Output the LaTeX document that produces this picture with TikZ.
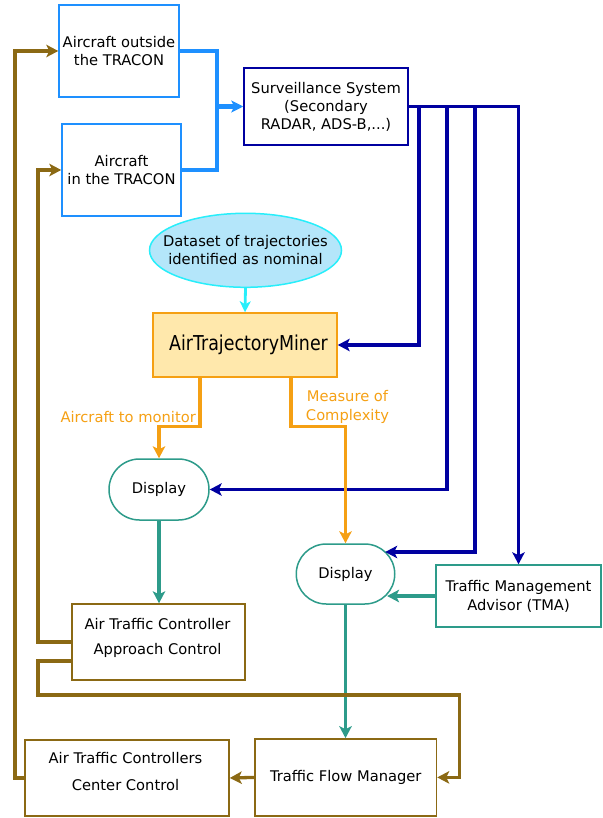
\documentclass[tikz,border=0pt]{standalone}
\usepackage{fontspec}
\setmainfont{DejaVu Sans}
\newfontfamily\condf[FakeStretch=0.85]{DejaVu Sans}
\usetikzlibrary{arrows.meta,shapes.geometric,shapes.misc}
\definecolor{cblue}{RGB}{30,144,255}
\definecolor{cdblue}{RGB}{0,0,160}
\definecolor{ccyan}{RGB}{40,238,250}
\definecolor{ccyanfill}{RGB}{180,230,250}
\definecolor{catmfill}{RGB}{255,232,172}
\definecolor{corange}{RGB}{245,160,20}
\definecolor{cteal}{RGB}{45,155,138}
\definecolor{cbrown}{RGB}{139,105,20}
\tikzset{
  txt/.style={font=\fontsize{14.7}{18}\selectfont, align=center, text=black, inner sep=0pt},
  box/.style={txt, draw, line width=1.5pt, rectangle},
  bluebox/.style={box, draw=cblue},
  brownbox/.style={box, draw=cbrown},
  tealbox/.style={box, draw=cteal},
  disp/.style={txt, draw=cteal, line width=1.5pt, rounded rectangle, minimum width=100pt, minimum height=61pt},
  tip/.style={-{Stealth[length=12pt,width=12.5pt,inset=3pt]}},
  bl/.style={cblue, line width=4.3pt},
  dbl/.style={cdblue, line width=3.3pt, tip},
  orl/.style={corange, line width=3.3pt, tip},
  tel/.style={cteal, line width=3.3pt, tip},
  brl/.style={cbrown, line width=3.3pt, tip},
}
\begin{document}
\begin{tikzpicture}[x=1pt,y=-1pt]
\useasboundingbox (0,0) rectangle (602,818);

% nodes
\node[bluebox, minimum width=120pt, minimum height=92pt] (a1) at (119,51) {Aircraft outside\\the TRACON};
\node[bluebox, minimum width=119pt, minimum height=92pt] (a2) at (121.5,170) {Aircraft\\in the TRACON};
\node[box, draw=cdblue, minimum width=164pt, minimum height=77pt] (surv) at (326,106.5) {Surveillance System\\(Secondary\\RADAR, ADS-B,...)};
\node[ellipse, draw=ccyan, fill=ccyanfill, line width=1.5pt, minimum width=192pt, minimum height=74pt, inner sep=0pt] (ds) at (245.5,250.3) {};
\node[txt] (dst) at (245.5,250.5) {Dataset of trajectories\\identified as nominal};
\node[box, draw=corange, fill=catmfill, minimum width=184pt, minimum height=64pt] (atm) at (245,345) {};
\node[txt, font=\condf\fontsize{20.5}{24}\selectfont] (atmt) at (248.5,344.5) {AirTrajectoryMiner};
\node[disp] (d1) at (159,489.5) {Display};
\node[disp, minimum width=98.5pt, minimum height=60pt] (d2) at (345.5,574) {Display};
\node[tealbox, minimum width=165pt, minimum height=62pt, font=\fontsize{14.7}{19}\selectfont] (tma) at (518.5,596) {Traffic Management\\Advisor (TMA)};
\node[brownbox, minimum width=173pt, minimum height=76pt] (atc) at (158.5,642) {};
\node[txt, font=\fontsize{14.7}{25}\selectfont] (atct) at (157.5,638) {Air Traffic Controller\\Approach Control};
\node[brownbox, minimum width=204pt, minimum height=76pt] (cc) at (127,778) {};
\node[txt, font=\fontsize{14.7}{27}\selectfont] (cct) at (125.5,771.5) {Air Traffic Controllers\\Center Control};
\node[brownbox, minimum width=181.5pt, minimum height=77pt] (tfm) at (345.75,777.4) {Traffic Flow Manager};

% labels
\node[txt, text=corange, anchor=east] (lab1) at (196,417) {Aircraft to monitor};
\node[txt, text=corange, font=\fontsize{14.7}{18.5}\selectfont] (lab2) at (347.5,407) {Measure of\\Complexity};

% helper coordinates
\coordinate (bj) at (217,106.5);
\coordinate (v1) at (419,345);
\coordinate (v2) at (447,489.5);
\coordinate (v3) at (475,552);
\coordinate (oL) at (200,377);
\coordinate (oLb) at (159,426.5);
\coordinate (oR) at (291,377);
\coordinate (oRb) at (345.5,426.5);
\coordinate (bi) at (38,170);
\coordinate (bo) at (15,51);
\coordinate (atcw2) at (72,661);
\coordinate (bl1) at (38,695);
\coordinate (bl2) at (459.5,777.4);

% blue
\draw[bl] (a1.east) -| (bj) |- (a2.east);
\draw[bl, -{Stealth[length=12pt,width=12pt,inset=3pt]}] (bj) -- (surv.west);

% cyan
\draw[ccyan, line width=2.8pt, -{Stealth[length=11pt,width=11pt,inset=3pt]}] (ds.south) -- (atm.north);

% dark blue
\draw[dbl] (surv.east) -| (v1) -- (atm.east);
\draw[dbl] (surv.east) -| (v2) -- (d1.east);
\draw[dbl] (surv.east) -| (v3) -- (v3 -| d2.30);
\draw[dbl] (surv.east) -| (tma.north);

% orange
\draw[orl] (oL) |- (oLb) -- (d1.north);
\draw[orl] (oR) |- (oRb) -- (d2.north);

% teal
\draw[tel] (d1.south) -- (d1.south |- atc.north);
\draw[tel] (d2.south) -- (d2.south |- tfm.north);
\draw[tel] (tma.west) -- (tma.west -| d2.-27);

% brown
\draw[brl] (atc.west) -| (bi) -- (a2.west);
\draw[brl] (cc.west) -| (bo) -- (a1.west);
\draw[brl] (atcw2) -| (bl1) -| (bl2) -- (tfm.east);
\draw[brl] (tfm.west) -- (cc.east);
\end{tikzpicture}
\end{document}
